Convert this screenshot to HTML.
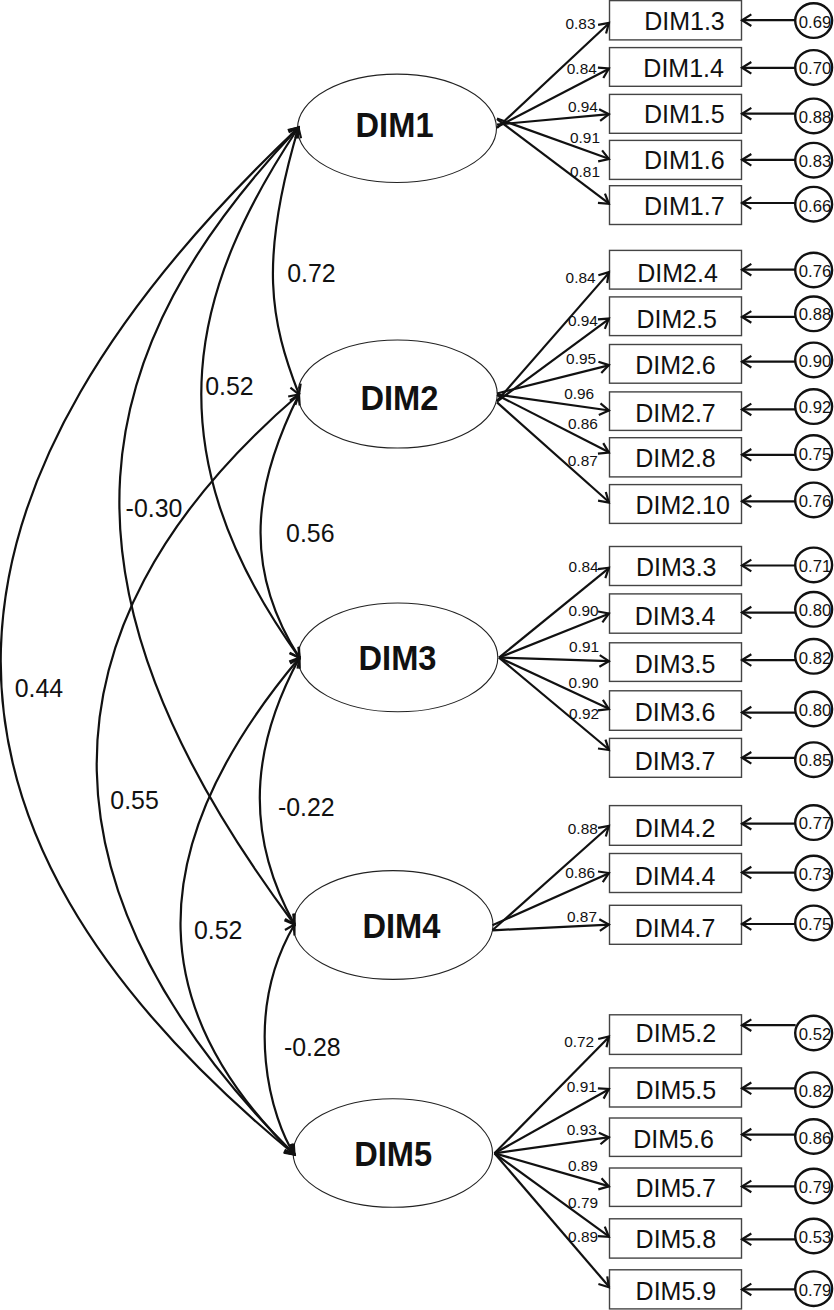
<!DOCTYPE html>
<html><head><meta charset="utf-8"><style>html,body{margin:0;padding:0;background:#fff;}svg{display:block;}text{font-family:"Liberation Sans",sans-serif;}</style></head>
<body>
<svg width="834" height="1310" viewBox="0 0 834 1310">
<rect width="834" height="1310" fill="#fff"/>
<ellipse cx="397" cy="128.3" rx="99.5" ry="54.2" fill="none" stroke="#222" stroke-width="1.1"/>
<rect x="609.5" y="0.6" width="132.0" height="39.3" fill="none" stroke="#444" stroke-width="1.4"/>
<line x1="795.65" y1="20.2" x2="742.5" y2="20.2" stroke="#111" stroke-width="2.2"/>
<ellipse cx="813.65" cy="20.6" rx="18.45" ry="17.3" fill="#fff" stroke="#111" stroke-width="2.4"/>
<path d="M751.33,26.03 L742.00,20.20 L751.33,14.37" fill="none" stroke="#111" stroke-width="2.2"/>
<line x1="497" y1="128" x2="609.5" y2="22.8" stroke="#111" stroke-width="2.2"/>
<path d="M598.11,24.91 L608.90,22.80 L606.07,33.43" fill="none" stroke="#111" stroke-width="2.2"/>
<rect x="609.5" y="47.6" width="132.0" height="38.7" fill="none" stroke="#444" stroke-width="1.4"/>
<line x1="795.65" y1="67.8" x2="742.5" y2="67.8" stroke="#111" stroke-width="2.2"/>
<ellipse cx="813.65" cy="67.4" rx="18.45" ry="17.3" fill="#fff" stroke="#111" stroke-width="2.4"/>
<path d="M751.33,73.63 L742.00,67.80 L751.33,61.97" fill="none" stroke="#111" stroke-width="2.2"/>
<line x1="497" y1="126.9" x2="609.5" y2="68.5" stroke="#111" stroke-width="2.2"/>
<path d="M597.93,67.62 L608.90,68.50 L603.31,77.97" fill="none" stroke="#111" stroke-width="2.2"/>
<rect x="609.5" y="94.4" width="132.0" height="38.9" fill="none" stroke="#444" stroke-width="1.4"/>
<line x1="795.65" y1="113.7" x2="742.5" y2="113.7" stroke="#111" stroke-width="2.2"/>
<ellipse cx="813.65" cy="115.9" rx="18.45" ry="17.3" fill="#fff" stroke="#111" stroke-width="2.4"/>
<path d="M751.33,119.53 L742.00,113.70 L751.33,107.87" fill="none" stroke="#111" stroke-width="2.2"/>
<line x1="497" y1="124.5" x2="609.5" y2="114.2" stroke="#111" stroke-width="2.2"/>
<path d="M599.08,109.25 L608.90,114.20 L600.14,120.86" fill="none" stroke="#111" stroke-width="2.2"/>
<rect x="609.5" y="140.4" width="132.0" height="39.0" fill="none" stroke="#444" stroke-width="1.4"/>
<line x1="795.65" y1="159.8" x2="742.5" y2="159.8" stroke="#111" stroke-width="2.2"/>
<ellipse cx="813.65" cy="160.2" rx="18.45" ry="17.3" fill="#fff" stroke="#111" stroke-width="2.4"/>
<path d="M751.33,165.63 L742.00,159.80 L751.33,153.97" fill="none" stroke="#111" stroke-width="2.2"/>
<line x1="497" y1="118.5" x2="609.5" y2="159.0" stroke="#111" stroke-width="2.2"/>
<path d="M602.10,150.36 L608.90,159.00 L598.15,161.32" fill="none" stroke="#111" stroke-width="2.2"/>
<rect x="609.5" y="185.7" width="132.0" height="38.8" fill="none" stroke="#444" stroke-width="1.4"/>
<line x1="795.65" y1="203" x2="742.5" y2="203" stroke="#111" stroke-width="2.2"/>
<ellipse cx="813.65" cy="204.2" rx="18.45" ry="17.3" fill="#fff" stroke="#111" stroke-width="2.4"/>
<path d="M751.33,208.83 L742.00,203.00 L751.33,197.17" fill="none" stroke="#111" stroke-width="2.2"/>
<line x1="497" y1="119" x2="609.5" y2="203.8" stroke="#111" stroke-width="2.2"/>
<path d="M604.96,193.53 L608.90,203.80 L597.94,202.84" fill="none" stroke="#111" stroke-width="2.2"/>
<ellipse cx="397.5" cy="394" rx="99.75" ry="54" fill="none" stroke="#222" stroke-width="1.1"/>
<rect x="609.5" y="250.4" width="132.0" height="38.7" fill="none" stroke="#444" stroke-width="1.4"/>
<line x1="795.65" y1="269.7" x2="742.5" y2="269.7" stroke="#111" stroke-width="2.2"/>
<ellipse cx="813.65" cy="270" rx="18.45" ry="17.3" fill="#fff" stroke="#111" stroke-width="2.4"/>
<path d="M751.33,275.53 L742.00,269.70 L751.33,263.87" fill="none" stroke="#111" stroke-width="2.2"/>
<line x1="497" y1="401" x2="609.5" y2="272.1" stroke="#111" stroke-width="2.2"/>
<path d="M598.37,275.30 L608.90,272.10 L607.16,282.96" fill="none" stroke="#111" stroke-width="2.2"/>
<rect x="609.5" y="296.9" width="132.0" height="38.7" fill="none" stroke="#444" stroke-width="1.4"/>
<line x1="795.65" y1="316.9" x2="742.5" y2="316.9" stroke="#111" stroke-width="2.2"/>
<ellipse cx="813.65" cy="313.8" rx="18.45" ry="17.3" fill="#fff" stroke="#111" stroke-width="2.4"/>
<path d="M751.33,322.73 L742.00,316.90 L751.33,311.07" fill="none" stroke="#111" stroke-width="2.2"/>
<line x1="497" y1="401.5" x2="609.5" y2="318.6" stroke="#111" stroke-width="2.2"/>
<path d="M597.93,319.44 L608.90,318.60 L604.85,328.83" fill="none" stroke="#111" stroke-width="2.2"/>
<rect x="609.5" y="344.5" width="132.0" height="38.7" fill="none" stroke="#444" stroke-width="1.4"/>
<line x1="795.65" y1="361.7" x2="742.5" y2="361.7" stroke="#111" stroke-width="2.2"/>
<ellipse cx="813.65" cy="359.9" rx="18.45" ry="17.3" fill="#fff" stroke="#111" stroke-width="2.4"/>
<path d="M751.33,367.53 L742.00,361.70 L751.33,355.87" fill="none" stroke="#111" stroke-width="2.2"/>
<line x1="497" y1="393.5" x2="609.5" y2="365.1" stroke="#111" stroke-width="2.2"/>
<path d="M598.43,361.73 L608.90,365.10 L601.28,373.04" fill="none" stroke="#111" stroke-width="2.2"/>
<rect x="609.5" y="391.9" width="132.0" height="38.5" fill="none" stroke="#444" stroke-width="1.4"/>
<line x1="795.65" y1="409.4" x2="742.5" y2="409.4" stroke="#111" stroke-width="2.2"/>
<ellipse cx="813.65" cy="406.6" rx="18.45" ry="17.3" fill="#fff" stroke="#111" stroke-width="2.4"/>
<path d="M751.33,415.23 L742.00,409.40 L751.33,403.57" fill="none" stroke="#111" stroke-width="2.2"/>
<line x1="497" y1="394.5" x2="609.5" y2="410.5" stroke="#111" stroke-width="2.2"/>
<path d="M600.49,403.42 L608.90,410.50 L598.84,414.96" fill="none" stroke="#111" stroke-width="2.2"/>
<rect x="609.5" y="437.7" width="132.0" height="39.2" fill="none" stroke="#444" stroke-width="1.4"/>
<line x1="795.65" y1="454.8" x2="742.5" y2="454.8" stroke="#111" stroke-width="2.2"/>
<ellipse cx="813.65" cy="452.6" rx="18.45" ry="17.3" fill="#fff" stroke="#111" stroke-width="2.4"/>
<path d="M751.33,460.63 L742.00,454.80 L751.33,448.97" fill="none" stroke="#111" stroke-width="2.2"/>
<line x1="497" y1="395" x2="609.5" y2="452.6" stroke="#111" stroke-width="2.2"/>
<path d="M603.25,443.16 L608.90,452.60 L597.94,453.54" fill="none" stroke="#111" stroke-width="2.2"/>
<rect x="609.5" y="484.6" width="132.0" height="38.8" fill="none" stroke="#444" stroke-width="1.4"/>
<line x1="795.65" y1="501.3" x2="742.5" y2="501.3" stroke="#111" stroke-width="2.2"/>
<ellipse cx="813.65" cy="499.9" rx="18.45" ry="17.3" fill="#fff" stroke="#111" stroke-width="2.4"/>
<path d="M751.33,507.13 L742.00,501.30 L751.33,495.47" fill="none" stroke="#111" stroke-width="2.2"/>
<line x1="497" y1="402.4" x2="609.5" y2="502.5" stroke="#111" stroke-width="2.2"/>
<path d="M605.81,491.94 L608.90,502.50 L598.06,500.65" fill="none" stroke="#111" stroke-width="2.2"/>
<ellipse cx="397.8" cy="657.4" rx="100" ry="54.4" fill="none" stroke="#222" stroke-width="1.1"/>
<rect x="609.5" y="546.5" width="132.0" height="39.0" fill="none" stroke="#444" stroke-width="1.4"/>
<line x1="795.65" y1="565.5" x2="742.5" y2="565.5" stroke="#111" stroke-width="2.2"/>
<ellipse cx="813.65" cy="564.9" rx="18.45" ry="17.3" fill="#fff" stroke="#111" stroke-width="2.4"/>
<path d="M751.33,571.33 L742.00,565.50 L751.33,559.67" fill="none" stroke="#111" stroke-width="2.2"/>
<line x1="499" y1="657.6" x2="609.5" y2="567.7" stroke="#111" stroke-width="2.2"/>
<path d="M597.99,569.07 L608.90,567.70 L605.34,578.11" fill="none" stroke="#111" stroke-width="2.2"/>
<rect x="609.5" y="593.9" width="132.0" height="39.3" fill="none" stroke="#444" stroke-width="1.4"/>
<line x1="795.65" y1="612.6" x2="742.5" y2="612.6" stroke="#111" stroke-width="2.2"/>
<ellipse cx="813.65" cy="609.3" rx="18.45" ry="17.3" fill="#fff" stroke="#111" stroke-width="2.4"/>
<path d="M751.33,618.43 L742.00,612.60 L751.33,606.77" fill="none" stroke="#111" stroke-width="2.2"/>
<line x1="499" y1="657.6" x2="609.5" y2="613.5" stroke="#111" stroke-width="2.2"/>
<path d="M598.08,611.54 L608.90,613.50 L602.40,622.37" fill="none" stroke="#111" stroke-width="2.2"/>
<rect x="609.5" y="642.8" width="132.0" height="38.6" fill="none" stroke="#444" stroke-width="1.4"/>
<line x1="795.65" y1="660.1" x2="742.5" y2="660.1" stroke="#111" stroke-width="2.2"/>
<ellipse cx="813.65" cy="656.3" rx="18.45" ry="17.3" fill="#fff" stroke="#111" stroke-width="2.4"/>
<path d="M751.33,665.93 L742.00,660.10 L751.33,654.27" fill="none" stroke="#111" stroke-width="2.2"/>
<line x1="499" y1="657.6" x2="609.5" y2="661.2" stroke="#111" stroke-width="2.2"/>
<path d="M599.77,655.07 L608.90,661.20 L599.39,666.72" fill="none" stroke="#111" stroke-width="2.2"/>
<rect x="609.5" y="690.8" width="132.0" height="39.5" fill="none" stroke="#444" stroke-width="1.4"/>
<line x1="795.65" y1="712.6" x2="742.5" y2="712.6" stroke="#111" stroke-width="2.2"/>
<ellipse cx="813.65" cy="709" rx="18.45" ry="17.3" fill="#fff" stroke="#111" stroke-width="2.4"/>
<path d="M751.33,718.43 L742.00,712.60 L751.33,706.77" fill="none" stroke="#111" stroke-width="2.2"/>
<line x1="499" y1="657.6" x2="609.5" y2="709.0" stroke="#111" stroke-width="2.2"/>
<path d="M602.90,699.78 L608.90,709.00 L597.98,710.35" fill="none" stroke="#111" stroke-width="2.2"/>
<rect x="609.5" y="738.4" width="132.0" height="38.9" fill="none" stroke="#444" stroke-width="1.4"/>
<line x1="795.65" y1="757.8" x2="742.5" y2="757.8" stroke="#111" stroke-width="2.2"/>
<ellipse cx="813.65" cy="759.7" rx="18.45" ry="17.3" fill="#fff" stroke="#111" stroke-width="2.4"/>
<path d="M751.33,763.63 L742.00,757.80 L751.33,751.97" fill="none" stroke="#111" stroke-width="2.2"/>
<line x1="499" y1="657.6" x2="609.5" y2="750.0" stroke="#111" stroke-width="2.2"/>
<path d="M605.48,739.54 L608.90,750.00 L598.00,748.49" fill="none" stroke="#111" stroke-width="2.2"/>
<ellipse cx="393" cy="925" rx="100" ry="54.4" fill="none" stroke="#222" stroke-width="1.1"/>
<rect x="609.5" y="805.6" width="132.0" height="39.7" fill="none" stroke="#444" stroke-width="1.4"/>
<line x1="795.65" y1="823.7" x2="742.5" y2="823.7" stroke="#111" stroke-width="2.2"/>
<ellipse cx="813.65" cy="822.6" rx="18.45" ry="17.3" fill="#fff" stroke="#111" stroke-width="2.4"/>
<path d="M751.33,829.53 L742.00,823.70 L751.33,817.87" fill="none" stroke="#111" stroke-width="2.2"/>
<line x1="492.4" y1="930.3" x2="609.5" y2="826.0" stroke="#111" stroke-width="2.2"/>
<path d="M598.06,827.85 L608.90,826.00 L605.81,836.56" fill="none" stroke="#111" stroke-width="2.2"/>
<rect x="609.5" y="853.5" width="132.0" height="39.0" fill="none" stroke="#444" stroke-width="1.4"/>
<line x1="795.65" y1="872.6" x2="742.5" y2="872.6" stroke="#111" stroke-width="2.2"/>
<ellipse cx="813.65" cy="873" rx="18.45" ry="17.3" fill="#fff" stroke="#111" stroke-width="2.4"/>
<path d="M751.33,878.43 L742.00,872.60 L751.33,866.77" fill="none" stroke="#111" stroke-width="2.2"/>
<line x1="492.4" y1="925.2" x2="609.5" y2="873.0" stroke="#111" stroke-width="2.2"/>
<path d="M598.01,871.47 L608.90,873.00 L602.75,882.12" fill="none" stroke="#111" stroke-width="2.2"/>
<rect x="609.5" y="905.3" width="132.0" height="39.0" fill="none" stroke="#444" stroke-width="1.4"/>
<line x1="795.65" y1="924" x2="742.5" y2="924" stroke="#111" stroke-width="2.2"/>
<ellipse cx="813.65" cy="922.9" rx="18.45" ry="17.3" fill="#fff" stroke="#111" stroke-width="2.4"/>
<path d="M751.33,929.83 L742.00,924.00 L751.33,918.17" fill="none" stroke="#111" stroke-width="2.2"/>
<line x1="492.4" y1="930.3" x2="609.5" y2="924.6" stroke="#111" stroke-width="2.2"/>
<path d="M599.30,919.23 L608.90,924.60 L599.87,930.88" fill="none" stroke="#111" stroke-width="2.2"/>
<ellipse cx="392.8" cy="1153" rx="99.7" ry="54.3" fill="none" stroke="#222" stroke-width="1.1"/>
<rect x="609.5" y="1014.8" width="132.0" height="39.6" fill="none" stroke="#444" stroke-width="1.4"/>
<line x1="795.65" y1="1025.2" x2="742.5" y2="1025.2" stroke="#111" stroke-width="2.2"/>
<ellipse cx="813.65" cy="1033" rx="18.45" ry="17.3" fill="#fff" stroke="#111" stroke-width="2.4"/>
<path d="M751.33,1031.03 L742.00,1025.20 L751.33,1019.37" fill="none" stroke="#111" stroke-width="2.2"/>
<line x1="494.5" y1="1153.3" x2="609.5" y2="1036.4" stroke="#111" stroke-width="2.2"/>
<path d="M598.20,1038.96 L608.90,1036.40 L606.51,1047.14" fill="none" stroke="#111" stroke-width="2.2"/>
<rect x="609.5" y="1067.9" width="132.0" height="39.1" fill="none" stroke="#444" stroke-width="1.4"/>
<line x1="795.65" y1="1088.3" x2="742.5" y2="1088.3" stroke="#111" stroke-width="2.2"/>
<ellipse cx="813.65" cy="1089.7" rx="18.45" ry="17.3" fill="#fff" stroke="#111" stroke-width="2.4"/>
<path d="M751.33,1094.13 L742.00,1088.30 L751.33,1082.47" fill="none" stroke="#111" stroke-width="2.2"/>
<line x1="494.5" y1="1153.3" x2="609.5" y2="1089.0" stroke="#111" stroke-width="2.2"/>
<path d="M597.91,1088.46 L608.90,1089.00 L603.60,1098.64" fill="none" stroke="#111" stroke-width="2.2"/>
<rect x="609.5" y="1118.0" width="132.0" height="38.4" fill="none" stroke="#444" stroke-width="1.4"/>
<line x1="795.65" y1="1134.6" x2="742.5" y2="1134.6" stroke="#111" stroke-width="2.2"/>
<ellipse cx="813.65" cy="1136.5" rx="18.45" ry="17.3" fill="#fff" stroke="#111" stroke-width="2.4"/>
<path d="M751.33,1140.43 L742.00,1134.60 L751.33,1128.77" fill="none" stroke="#111" stroke-width="2.2"/>
<line x1="494.5" y1="1153.3" x2="609.5" y2="1137.2" stroke="#111" stroke-width="2.2"/>
<path d="M598.85,1132.72 L608.90,1137.20 L600.47,1144.27" fill="none" stroke="#111" stroke-width="2.2"/>
<rect x="609.5" y="1168.0" width="132.0" height="38.4" fill="none" stroke="#444" stroke-width="1.4"/>
<line x1="795.65" y1="1186.4" x2="742.5" y2="1186.4" stroke="#111" stroke-width="2.2"/>
<ellipse cx="813.65" cy="1186" rx="18.45" ry="17.3" fill="#fff" stroke="#111" stroke-width="2.4"/>
<path d="M751.33,1192.23 L742.00,1186.40 L751.33,1180.57" fill="none" stroke="#111" stroke-width="2.2"/>
<line x1="494.5" y1="1153.3" x2="609.5" y2="1186.4" stroke="#111" stroke-width="2.2"/>
<path d="M601.55,1178.22 L608.90,1186.40 L598.32,1189.42" fill="none" stroke="#111" stroke-width="2.2"/>
<rect x="609.5" y="1218.8" width="132.0" height="39.3" fill="none" stroke="#444" stroke-width="1.4"/>
<line x1="795.65" y1="1239.3" x2="742.5" y2="1239.3" stroke="#111" stroke-width="2.2"/>
<ellipse cx="813.65" cy="1236" rx="18.45" ry="17.3" fill="#fff" stroke="#111" stroke-width="2.4"/>
<path d="M751.33,1245.13 L742.00,1239.30 L751.33,1233.47" fill="none" stroke="#111" stroke-width="2.2"/>
<line x1="494.5" y1="1153.3" x2="609.5" y2="1236.9" stroke="#111" stroke-width="2.2"/>
<path d="M604.78,1226.70 L608.90,1236.90 L597.93,1236.13" fill="none" stroke="#111" stroke-width="2.2"/>
<rect x="609.5" y="1269.8" width="132.0" height="39.1" fill="none" stroke="#444" stroke-width="1.4"/>
<line x1="795.65" y1="1289.4" x2="742.5" y2="1289.4" stroke="#111" stroke-width="2.2"/>
<ellipse cx="813.65" cy="1288.7" rx="18.45" ry="17.3" fill="#fff" stroke="#111" stroke-width="2.4"/>
<path d="M751.33,1295.23 L742.00,1289.40 L751.33,1283.57" fill="none" stroke="#111" stroke-width="2.2"/>
<line x1="494.5" y1="1153.3" x2="609.5" y2="1287.3" stroke="#111" stroke-width="2.2"/>
<path d="M607.25,1276.42 L608.90,1287.30 L598.40,1284.02" fill="none" stroke="#111" stroke-width="2.2"/>
<path d="M298.5,127.5 C258.8,261.0 270.3,320.8 299.0,394.5" fill="none" stroke="#111" stroke-width="2.2"/>
<path d="M290.51,135.06 L298.50,127.50 L301.05,138.20" fill="none" stroke="#111" stroke-width="2.2"/>
<path d="M300.67,383.63 L299.00,394.50 L290.42,387.62" fill="none" stroke="#111" stroke-width="2.2"/>
<path d="M298.5,127.5 C195.5,282.2 144.3,442.6 299.5,657.8" fill="none" stroke="#111" stroke-width="2.2"/>
<path d="M288.64,132.38 L298.50,127.50 L297.80,138.48" fill="none" stroke="#111" stroke-width="2.2"/>
<path d="M298.39,646.86 L299.50,657.80 L289.47,653.29" fill="none" stroke="#111" stroke-width="2.2"/>
<path d="M298.5,127.5 C90.7,347.4 32.0,573.8 294.5,924.5" fill="none" stroke="#111" stroke-width="2.2"/>
<path d="M287.96,130.65 L298.50,127.50 L295.95,138.20" fill="none" stroke="#111" stroke-width="2.2"/>
<path d="M293.20,913.58 L294.50,924.50 L284.39,920.17" fill="none" stroke="#111" stroke-width="2.2"/>
<path d="M298.5,127.5 C-81.0,486.8 -114.3,817.9 294.5,1154.5" fill="none" stroke="#111" stroke-width="2.2"/>
<path d="M287.80,130.05 L298.50,127.50 L295.36,138.04" fill="none" stroke="#111" stroke-width="2.2"/>
<path d="M290.64,1144.20 L294.50,1154.50 L283.65,1152.69" fill="none" stroke="#111" stroke-width="2.2"/>
<path d="M299.0,394.5 C259.8,473.2 236.7,560.0 299.5,657.8" fill="none" stroke="#111" stroke-width="2.2"/>
<path d="M289.83,400.58 L299.00,394.50 L299.68,405.48" fill="none" stroke="#111" stroke-width="2.2"/>
<path d="M298.98,646.81 L299.50,657.80 L289.72,652.76" fill="none" stroke="#111" stroke-width="2.2"/>
<path d="M299.0,394.5 C18.1,635.8 42.1,903.1 294.5,1154.5" fill="none" stroke="#111" stroke-width="2.2"/>
<path d="M288.19,396.53 L299.00,394.50 L295.36,404.88" fill="none" stroke="#111" stroke-width="2.2"/>
<path d="M291.63,1143.88 L294.50,1154.50 L283.87,1151.67" fill="none" stroke="#111" stroke-width="2.2"/>
<path d="M299.5,657.8 C258.5,733.4 237.9,822.9 294.5,924.5" fill="none" stroke="#111" stroke-width="2.2"/>
<path d="M290.12,663.55 L299.50,657.80 L299.79,668.80" fill="none" stroke="#111" stroke-width="2.2"/>
<path d="M294.67,913.50 L294.50,924.50 L285.06,918.86" fill="none" stroke="#111" stroke-width="2.2"/>
<path d="M299.5,657.8 C131.0,857.8 152.6,1017.0 294.5,1154.5" fill="none" stroke="#111" stroke-width="2.2"/>
<path d="M289.16,661.54 L299.50,657.80 L297.57,668.63" fill="none" stroke="#111" stroke-width="2.2"/>
<path d="M291.49,1143.92 L294.50,1154.50 L283.83,1151.82" fill="none" stroke="#111" stroke-width="2.2"/>
<path d="M294.5,924.5 C240.5,1016.9 272.1,1120.9 294.5,1154.5" fill="none" stroke="#111" stroke-width="2.2"/>
<path d="M284.95,929.95 L294.50,924.50 L294.45,935.50" fill="none" stroke="#111" stroke-width="2.2"/>
<path d="M293.77,1143.52 L294.50,1154.50 L284.63,1149.64" fill="none" stroke="#111" stroke-width="2.2"/>
<text transform="translate(355.55,136.70) scale(0.975,1.04)" font-weight="bold" font-size="33.5" fill="#111">DIM1</text>
<text transform="translate(644.15,29.80) scale(1,1)" font-size="25" fill="#111">DIM1.3</text>
<text transform="translate(815.05,27.65) scale(1,1)" text-anchor="middle" font-size="16.7" fill="#111">0.69</text>
<text transform="translate(565.50,29.05) scale(1,1)" font-size="15.4" fill="#111">0.83</text>
<text transform="translate(643.35,76.80) scale(1,1)" font-size="25" fill="#111">DIM1.4</text>
<text transform="translate(815.05,73.95) scale(1,1)" text-anchor="middle" font-size="16.7" fill="#111">0.70</text>
<text transform="translate(566.80,74.45) scale(1,1)" font-size="15.4" fill="#111">0.84</text>
<text transform="translate(644.00,123.25) scale(1,1)" font-size="25" fill="#111">DIM1.5</text>
<text transform="translate(815.05,123.15) scale(1,1)" text-anchor="middle" font-size="16.7" fill="#111">0.88</text>
<text transform="translate(567.90,112.05) scale(1,1)" font-size="15.4" fill="#111">0.94</text>
<text transform="translate(644.00,168.90) scale(1,1)" font-size="25" fill="#111">DIM1.6</text>
<text transform="translate(815.05,167.00) scale(1,1)" text-anchor="middle" font-size="16.7" fill="#111">0.83</text>
<text transform="translate(570.00,143.45) scale(1,1)" font-size="15.4" fill="#111">0.91</text>
<text transform="translate(644.00,215.05) scale(1,1)" font-size="25" fill="#111">DIM1.7</text>
<text transform="translate(815.05,211.60) scale(1,1)" text-anchor="middle" font-size="16.7" fill="#111">0.66</text>
<text transform="translate(570.00,176.85) scale(1,1)" font-size="15.4" fill="#111">0.81</text>
<text transform="translate(360.40,409.85) scale(0.975,1.04)" font-weight="bold" font-size="33.5" fill="#111">DIM2</text>
<text transform="translate(637.25,281.85) scale(1,1)" font-size="25" fill="#111">DIM2.4</text>
<text transform="translate(815.05,276.75) scale(1,1)" text-anchor="middle" font-size="16.7" fill="#111">0.76</text>
<text transform="translate(565.60,283.25) scale(1,1)" font-size="15.4" fill="#111">0.84</text>
<text transform="translate(636.40,327.85) scale(1,1)" font-size="25" fill="#111">DIM2.5</text>
<text transform="translate(815.05,320.45) scale(1,1)" text-anchor="middle" font-size="16.7" fill="#111">0.88</text>
<text transform="translate(567.90,326.25) scale(1,1)" font-size="15.4" fill="#111">0.94</text>
<text transform="translate(635.20,374.45) scale(1,1)" font-size="25" fill="#111">DIM2.6</text>
<text transform="translate(815.05,367.15) scale(1,1)" text-anchor="middle" font-size="16.7" fill="#111">0.90</text>
<text transform="translate(566.10,364.05) scale(1,1)" font-size="15.4" fill="#111">0.95</text>
<text transform="translate(635.20,421.95) scale(1,1)" font-size="25" fill="#111">DIM2.7</text>
<text transform="translate(815.05,413.35) scale(1,1)" text-anchor="middle" font-size="16.7" fill="#111">0.92</text>
<text transform="translate(564.20,398.85) scale(1,1)" font-size="15.4" fill="#111">0.96</text>
<text transform="translate(635.20,466.55) scale(1,1)" font-size="25" fill="#111">DIM2.8</text>
<text transform="translate(815.05,459.80) scale(1,1)" text-anchor="middle" font-size="16.7" fill="#111">0.75</text>
<text transform="translate(567.90,428.85) scale(1,1)" font-size="15.4" fill="#111">0.86</text>
<text transform="translate(635.40,514.30) scale(1,1)" font-size="25" fill="#111">DIM2.10</text>
<text transform="translate(815.05,506.60) scale(1,1)" text-anchor="middle" font-size="16.7" fill="#111">0.76</text>
<text transform="translate(567.80,466.45) scale(1,1)" font-size="15.4" fill="#111">0.87</text>
<text transform="translate(358.50,670.10) scale(0.975,1.04)" font-weight="bold" font-size="33.5" fill="#111">DIM3</text>
<text transform="translate(635.95,575.85) scale(1,1)" font-size="25" fill="#111">DIM3.3</text>
<text transform="translate(815.05,571.60) scale(1,1)" text-anchor="middle" font-size="16.7" fill="#111">0.71</text>
<text transform="translate(568.60,571.55) scale(1,1)" font-size="15.4" fill="#111">0.84</text>
<text transform="translate(634.80,624.75) scale(1,1)" font-size="25" fill="#111">DIM3.4</text>
<text transform="translate(815.05,615.85) scale(1,1)" text-anchor="middle" font-size="16.7" fill="#111">0.80</text>
<text transform="translate(568.60,615.85) scale(1,1)" font-size="15.4" fill="#111">0.90</text>
<text transform="translate(634.80,673.20) scale(1,1)" font-size="25" fill="#111">DIM3.5</text>
<text transform="translate(815.05,663.50) scale(1,1)" text-anchor="middle" font-size="16.7" fill="#111">0.82</text>
<text transform="translate(569.10,651.95) scale(1,1)" font-size="15.4" fill="#111">0.91</text>
<text transform="translate(634.80,721.05) scale(1,1)" font-size="25" fill="#111">DIM3.6</text>
<text transform="translate(815.05,716.15) scale(1,1)" text-anchor="middle" font-size="16.7" fill="#111">0.80</text>
<text transform="translate(568.60,687.75) scale(1,1)" font-size="15.4" fill="#111">0.90</text>
<text transform="translate(634.80,770.00) scale(1,1)" font-size="25" fill="#111">DIM3.7</text>
<text transform="translate(815.05,766.35) scale(1,1)" text-anchor="middle" font-size="16.7" fill="#111">0.85</text>
<text transform="translate(569.10,719.25) scale(1,1)" font-size="15.4" fill="#111">0.92</text>
<text transform="translate(362.40,937.80) scale(0.975,1.04)" font-weight="bold" font-size="33.5" fill="#111">DIM4</text>
<text transform="translate(634.80,836.80) scale(1,1)" font-size="25" fill="#111">DIM4.2</text>
<text transform="translate(815.05,829.25) scale(1,1)" text-anchor="middle" font-size="16.7" fill="#111">0.77</text>
<text transform="translate(567.80,834.05) scale(1,1)" font-size="15.4" fill="#111">0.88</text>
<text transform="translate(634.80,885.05) scale(1,1)" font-size="25" fill="#111">DIM4.4</text>
<text transform="translate(815.05,879.50) scale(1,1)" text-anchor="middle" font-size="16.7" fill="#111">0.73</text>
<text transform="translate(565.20,878.15) scale(1,1)" font-size="15.4" fill="#111">0.86</text>
<text transform="translate(634.80,936.65) scale(1,1)" font-size="25" fill="#111">DIM4.7</text>
<text transform="translate(815.05,930.00) scale(1,1)" text-anchor="middle" font-size="16.7" fill="#111">0.75</text>
<text transform="translate(567.00,921.75) scale(1,1)" font-size="15.4" fill="#111">0.87</text>
<text transform="translate(354.20,1166.40) scale(0.975,1.04)" font-weight="bold" font-size="33.5" fill="#111">DIM5</text>
<text transform="translate(635.60,1041.70) scale(1,1)" font-size="25" fill="#111">DIM5.2</text>
<text transform="translate(815.05,1040.30) scale(1,1)" text-anchor="middle" font-size="16.7" fill="#111">0.52</text>
<text transform="translate(564.20,1047.35) scale(1,1)" font-size="15.4" fill="#111">0.72</text>
<text transform="translate(635.60,1099.35) scale(1,1)" font-size="25" fill="#111">DIM5.5</text>
<text transform="translate(815.05,1097.15) scale(1,1)" text-anchor="middle" font-size="16.7" fill="#111">0.82</text>
<text transform="translate(566.80,1092.45) scale(1,1)" font-size="15.4" fill="#111">0.91</text>
<text transform="translate(633.25,1147.80) scale(1,1)" font-size="25" fill="#111">DIM5.6</text>
<text transform="translate(815.05,1143.60) scale(1,1)" text-anchor="middle" font-size="16.7" fill="#111">0.86</text>
<text transform="translate(566.80,1135.05) scale(1,1)" font-size="15.4" fill="#111">0.93</text>
<text transform="translate(635.45,1197.35) scale(1,1)" font-size="25" fill="#111">DIM5.7</text>
<text transform="translate(815.05,1193.10) scale(1,1)" text-anchor="middle" font-size="16.7" fill="#111">0.79</text>
<text transform="translate(567.90,1170.65) scale(1,1)" font-size="15.4" fill="#111">0.89</text>
<text transform="translate(635.60,1248.00) scale(1,1)" font-size="25" fill="#111">DIM5.8</text>
<text transform="translate(815.05,1242.85) scale(1,1)" text-anchor="middle" font-size="16.7" fill="#111">0.53</text>
<text transform="translate(568.10,1208.35) scale(1,1)" font-size="15.4" fill="#111">0.79</text>
<text transform="translate(635.60,1299.95) scale(1,1)" font-size="25" fill="#111">DIM5.9</text>
<text transform="translate(815.05,1295.85) scale(1,1)" text-anchor="middle" font-size="16.7" fill="#111">0.79</text>
<text transform="translate(568.10,1242.25) scale(1,1)" font-size="15.4" fill="#111">0.89</text>
<text transform="translate(287.20,282.20) scale(1,1)" font-size="24.9" fill="#111">0.72</text>
<text transform="translate(205.20,394.50) scale(1,1)" font-size="24.9" fill="#111">0.52</text>
<text transform="translate(125.60,516.95) scale(1,1)" font-size="24.9" fill="#111">-0.30</text>
<text transform="translate(14.70,697.40) scale(1,1)" font-size="24.9" fill="#111">0.44</text>
<text transform="translate(286.10,541.80) scale(1,1)" font-size="24.9" fill="#111">0.56</text>
<text transform="translate(110.30,808.95) scale(1,1)" font-size="24.9" fill="#111">0.55</text>
<text transform="translate(277.95,816.40) scale(1,1)" font-size="24.9" fill="#111">-0.22</text>
<text transform="translate(194.00,938.50) scale(1,1)" font-size="24.9" fill="#111">0.52</text>
<text transform="translate(283.90,1055.95) scale(1,1)" font-size="24.9" fill="#111">-0.28</text>
</svg>
</body></html>
